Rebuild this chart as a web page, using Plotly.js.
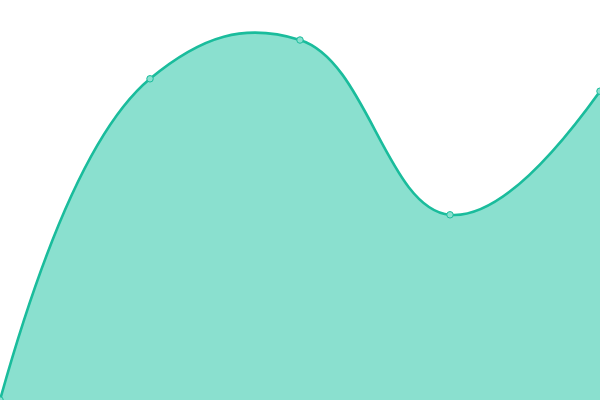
<!DOCTYPE html>
<html><head><meta charset="utf-8">
<script src="https://cdn.plot.ly/plotly-3.0.1.min.js"></script>
<style>html,body{margin:0;padding:0;background:#fff}#chart{width:600px;height:400px}</style>
</head><body><div id="chart"></div>
<script>
var xValues = [0, 1, 2, 3, 4];
var yValues = [0, 80.3, 90, 46.3, 77.2];

Plotly.newPlot('chart', [{
  x: xValues,
  y: yValues,
  type: 'scatter',
  mode: 'lines+markers',
  fill: 'tozeroy',
  fillcolor: '#8ae0cf',
  line: {shape: 'spline', smoothing: 1.2, color: '#1abc9c', width: 2.6},
  marker: {size: 6.5, color: '#8ae0cf', line: {color: '#1abc9c', width: 1}},
  hoverinfo: 'none'
}], {
  width: 600, height: 400,
  margin: {l: 0, r: 0, t: 0, b: 0},
  paper_bgcolor: '#fff', plot_bgcolor: '#fff',
  showlegend: false,
  xaxis: {range: [0, 4], visible: false, showgrid: false, zeroline: false},
  yaxis: {range: [0, 100], visible: false, showgrid: false, zeroline: false}
}, {displayModeBar: false, staticPlot: true});
</script></body></html>
